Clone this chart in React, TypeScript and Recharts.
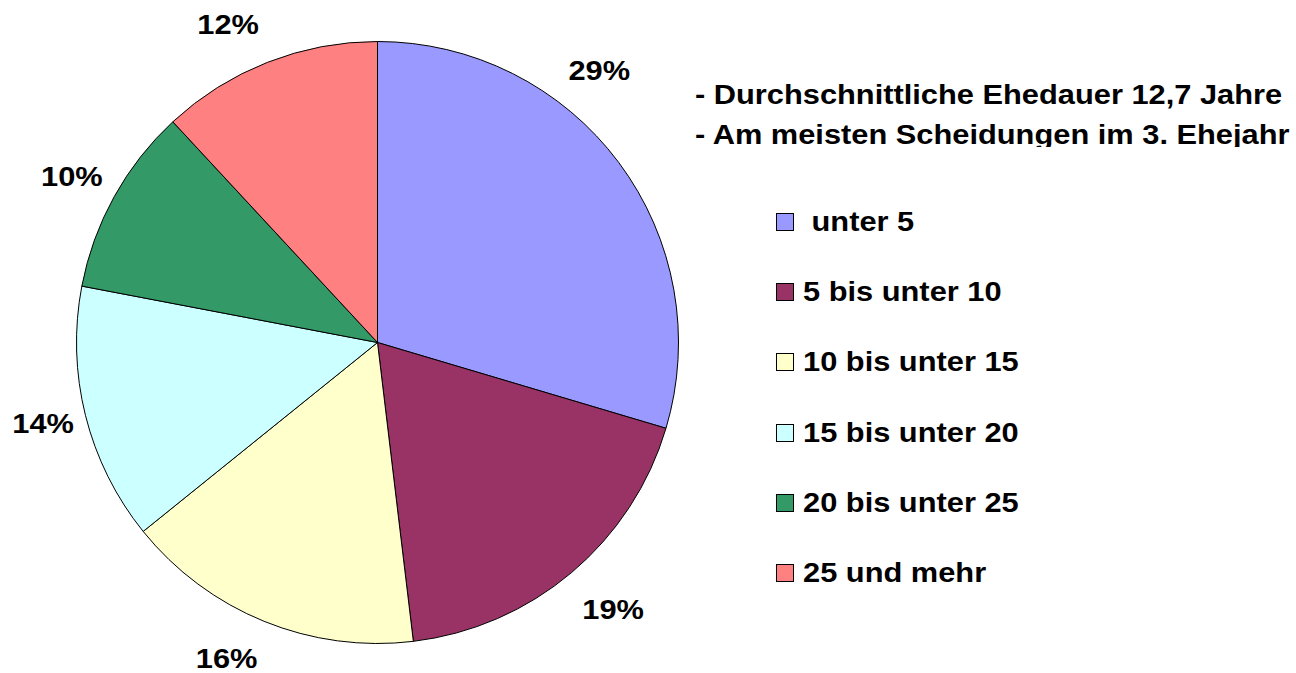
import React from "react";
import { PieChart, Pie, Cell, Legend } from "recharts";

const categories = [" unter 5", "5 bis unter 10", "10 bis unter 15", "15 bis unter 20", "20 bis unter 25", "25 und mehr"];
const shares = [29.6, 18.5, 16.1, 13.8, 10.1, 11.9];
const percentLabels = ["29%", "19%", "16%", "14%", "10%", "12%"];
const colors = ["#9999FF", "#993366", "#FFFFCC", "#CCFFFF", "#339966", "#FF8080"];
const notes = ["- Durchschnittliche Ehedauer 12,7 Jahre", "- Am meisten Scheidungen im 3. Ehejahr"];

const labelAngleShift = [14.1, 1.3, -3.4, -0.5, 0.4, 3.7];
const labelRadius = [351, 356, 350, 344, 348, 352];

const data = categories.map((name, i) => ({ name, value: shares[i], label: percentLabels[i] }));

const FONT = "'Liberation Sans', Arial, sans-serif";
const RAD = Math.PI / 180;
const FS = 28;
const SX = 1.1;

const renderLabel = (props: any) => {
  const { cx, cy, midAngle, index } = props;
  const a = (midAngle + labelAngleShift[index]) * RAD;
  const r = labelRadius[index];
  const x = cx + r * Math.cos(a);
  const y = cy - r * Math.sin(a);
  return (
    <text
      transform={`translate(${x},${y}) scale(${SX},1)`}
      x={0}
      y={10}
      textAnchor="middle"
      fontFamily={FONT}
      fontWeight="bold"
      fontSize={FS}
      fill="#000"
    >
      {data[index].label}
    </text>
  );
};

const renderLegend = () => (
  <div style={{ fontFamily: FONT, fontWeight: "bold", fontSize: FS, color: "#000" }}>
    {data.map((d, i) => (
      <div
        key={d.name}
        style={{
          position: "absolute",
          left: 776,
          top: 222 + i * 70.2 - 16,
          height: 32,
          display: "flex",
          alignItems: "center",
          whiteSpace: "pre",
        }}
      >
        <div style={{ width: 16, height: 16, background: colors[i], border: "1px solid #000", marginRight: 9, flex: "none" }} />
        <span style={{ lineHeight: "32px", display: "inline-block", transform: `scaleX(${SX})`, transformOrigin: "left center" }}>
          {d.name}
        </span>
      </div>
    ))}
  </div>
);

export default function App() {
  return (
    <div style={{ position: "absolute", left: 0, top: 0, width: 1296, height: 673, background: "#fff", overflow: "hidden" }}>
      <PieChart width={1296} height={673} margin={{ top: 0, right: 0, bottom: 0, left: 0 }}>
        <Pie
          data={data}
          dataKey="value"
          nameKey="name"
          cx={377.5}
          cy={342.5}
          outerRadius={301}
          startAngle={90}
          endAngle={-270}
          stroke="#000"
          strokeWidth={1}
          label={renderLabel}
          labelLine={false}
          isAnimationActive={false}
        >
          {data.map((d, i) => (
            <Cell key={d.name} fill={colors[i]} />
          ))}
        </Pie>
        <Legend content={renderLegend} wrapperStyle={{ position: "absolute", left: 0, top: 0, width: 0, height: 0 }} />
      </PieChart>
      <div
        style={{
          position: "absolute",
          left: 695,
          top: 75,
          width: 601,
          height: 72,
          overflow: "hidden",
          fontFamily: FONT,
          fontWeight: "bold",
          fontSize: FS,
          lineHeight: "40px",
          whiteSpace: "pre",
          color: "#000",
        }}
      >
        {notes.map((t) => (
          <div key={t} style={{ transform: `scaleX(${SX})`, transformOrigin: "left center" }}>
            {t}
          </div>
        ))}
      </div>
    </div>
  );
}
